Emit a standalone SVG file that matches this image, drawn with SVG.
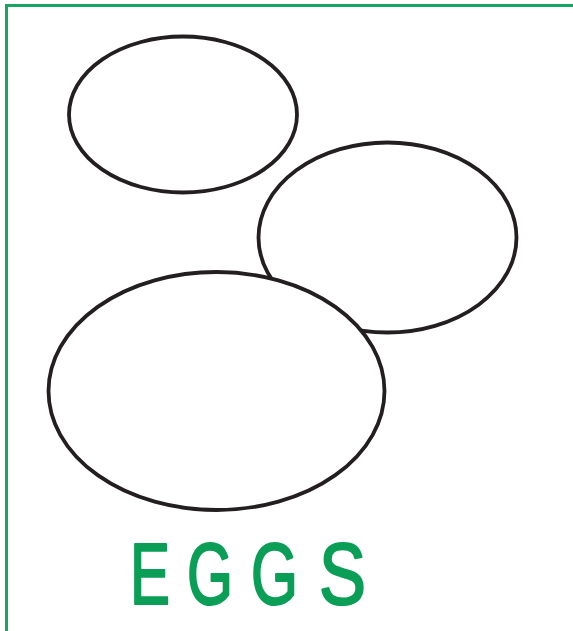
<svg xmlns="http://www.w3.org/2000/svg" width="573" height="631" viewBox="0 0 573 631">
<style>
.egg{fill:#fff;stroke:#231f20;stroke-width:3.8}
.frame{stroke:#17a562;stroke-width:3;fill:none}
.title{font-family:"Liberation Sans",Arial,sans-serif;font-size:88px;fill:#0a9e56;stroke:#0a9e56;stroke-width:2.2;stroke-linejoin:round;stroke-linecap:round}
</style>
<rect width="573" height="631" fill="#fff"/>
<path class="frame" d="M6.5,631 V5.5 H573"/>
<g id="egg-small"><ellipse class="egg" cx="183" cy="114.5" rx="114" ry="78"/></g>
<g id="egg-medium"><ellipse class="egg" cx="387.5" cy="237.5" rx="129" ry="95"/></g>
<g id="egg-large"><ellipse class="egg" cx="216.5" cy="391" rx="168" ry="119"/></g>
<g id="connectors"></g>
<g id="title">
<text class="title" x="130" y="604" textLength="40" lengthAdjust="spacingAndGlyphs">E</text>
<text class="title" x="187" y="604" textLength="46" lengthAdjust="spacingAndGlyphs">G</text>
<text class="title" x="251" y="604" textLength="47" lengthAdjust="spacingAndGlyphs">G</text>
<text class="title" x="319" y="604" textLength="47" lengthAdjust="spacingAndGlyphs">S</text>
</g>
</svg>
